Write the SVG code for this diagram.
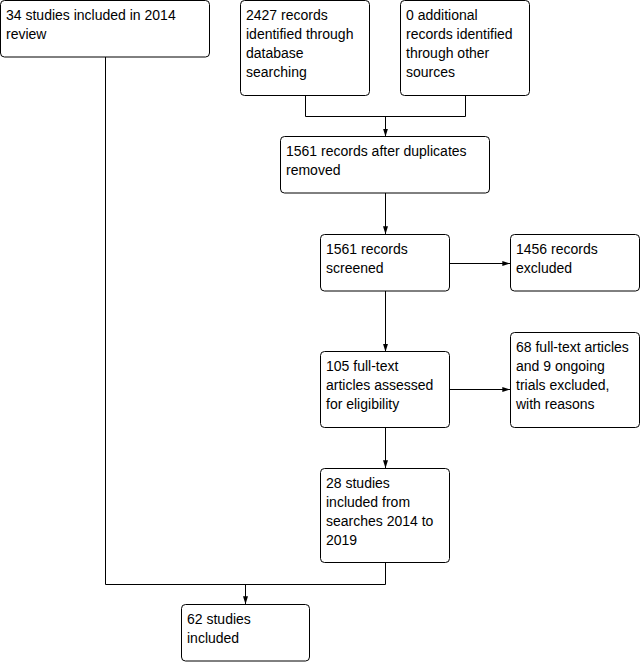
<svg xmlns="http://www.w3.org/2000/svg" width="642" height="662" viewBox="0 0 642 662">
<style>
.box{fill:#fff;stroke:#000;stroke-width:1}
.t{font-family:"Liberation Sans",Arial,sans-serif;font-size:14px;fill:#000}
.c{fill:none;stroke:#000;stroke-width:1}
</style>
<defs>
<marker id="ah" viewBox="0 0 8 6" refX="8" refY="3" markerWidth="8" markerHeight="6" orient="auto" markerUnits="userSpaceOnUse">
<path d="M0,0.5 L8,3 L0,5.5 Z" fill="#000"/>
</marker>
</defs>
<rect width="642" height="662" fill="#fff"/>
<g id="connectors">
<path class="c" d="M305.5,95.5 V116.5 H465.5 V95.5"/>
<path class="c" d="M385.5,116.5 V136.5" marker-end="url(#ah)"/>
<path class="c" d="M385.5,193 V234.3" marker-end="url(#ah)"/>
<path class="c" d="M449.3,263.5 H510.3" marker-end="url(#ah)"/>
<path class="c" d="M385.5,291 V351.7" marker-end="url(#ah)"/>
<path class="c" d="M449.3,389.5 H510.3" marker-end="url(#ah)"/>
<path class="c" d="M385.5,427.3 V468.3" marker-end="url(#ah)"/>
<path class="c" d="M105.5,57 V584.5 H385.5 V562.7"/>
<path class="c" d="M245.5,584.5 V604.3" marker-end="url(#ah)"/>
</g>
<g id="n1"><rect class="box" x="0.5" y="0.5" width="209" height="56.5" rx="4"/>
<text class="t" x="6" y="20">34 studies included in 2014</text><text class="t" x="6" y="39">review</text></g>
<g id="n2"><rect class="box" x="240.5" y="0.5" width="129" height="95" rx="4"/>
<text class="t" x="246" y="20">2427 records</text><text class="t" x="246" y="39">identified through</text><text class="t" x="246" y="58">database</text><text class="t" x="246" y="77">searching</text></g>
<g id="n3"><rect class="box" x="400.5" y="0.5" width="129" height="95" rx="4"/>
<text class="t" x="406" y="20">0 additional</text><text class="t" x="406" y="39">records identified</text><text class="t" x="406" y="58">through other</text><text class="t" x="406" y="77">sources</text></g>
<g id="n4"><rect class="box" x="280.5" y="136.5" width="209" height="56.5" rx="4"/>
<text class="t" x="286" y="156">1561 records after duplicates</text><text class="t" x="286" y="175">removed</text></g>
<g id="n5"><rect class="box" x="320.5" y="234.5" width="129" height="56.5" rx="4"/>
<text class="t" x="326" y="253.5">1561 records</text><text class="t" x="326" y="272.5">screened</text></g>
<g id="n6"><rect class="box" x="510.5" y="234.5" width="129" height="56.5" rx="4"/>
<text class="t" x="516" y="253.5">1456 records</text><text class="t" x="516" y="272.5">excluded</text></g>
<g id="n7"><rect class="box" x="320.5" y="351.5" width="129" height="76" rx="4"/>
<text class="t" x="326" y="371">105 full-text</text><text class="t" x="326" y="390">articles assessed</text><text class="t" x="326" y="409">for eligibility</text></g>
<g id="n8"><rect class="box" x="510.5" y="332.5" width="129" height="95" rx="4"/>
<text class="t" x="516" y="352">68 full-text articles</text><text class="t" x="516" y="371">and 9 ongoing</text><text class="t" x="516" y="390">trials excluded,</text><text class="t" x="516" y="409">with reasons</text></g>
<g id="n9"><rect class="box" x="320.5" y="468.5" width="129" height="94" rx="4"/>
<text class="t" x="326" y="488">28 studies</text><text class="t" x="326" y="507">included from</text><text class="t" x="326" y="526">searches 2014 to</text><text class="t" x="326" y="545">2019</text></g>
<g id="n10"><rect class="box" x="181.5" y="604.5" width="128" height="56.5" rx="4"/>
<text class="t" x="187" y="624">62 studies</text><text class="t" x="187" y="643">included</text></g>
</svg>
